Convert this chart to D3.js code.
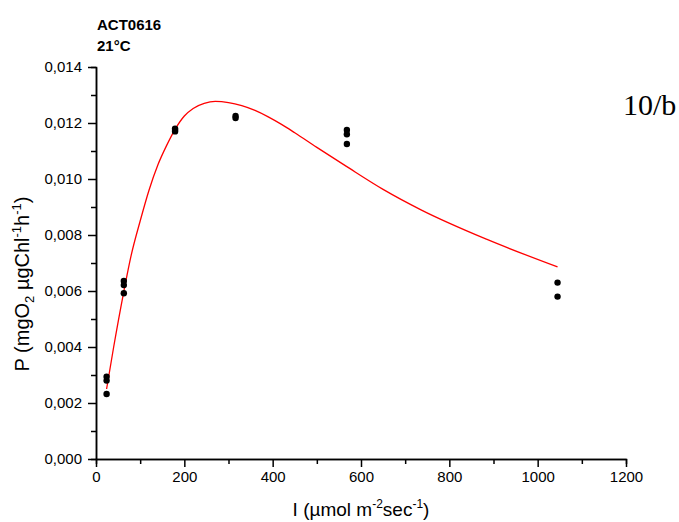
<!DOCTYPE html>
<html>
<head>
<meta charset="utf-8">
<script src="https://cdnjs.cloudflare.com/ajax/libs/d3/7.8.5/d3.min.js"></script>
<style>
  body { margin: 0; background: #fff; }
  svg { display: block; font-family: "Liberation Sans", Arial, sans-serif; }
</style>
</head>
<body>
<div id="chart"></div>
<script>
const F_WIDTH = 679;
const F_HEIGHT = 522;
const MARGINS = {left: 96, right: 53, top: 67, bottom: 63};

const VIS_WIDTH = F_WIDTH - MARGINS.left - MARGINS.right;
const VIS_HEIGHT = F_HEIGHT - MARGINS.top - MARGINS.bottom;

// measured points (light intensity, production)
const lightI = [24, 24, 24, 63, 63, 63, 179, 179, 179, 316, 316, 568, 568, 568, 1045, 1045];
const prod = [0.00294, 0.0028, 0.00232, 0.00636, 0.00621, 0.00592, 0.0118, 0.01175, 0.0117,
              0.01225, 0.01218, 0.01175, 0.0116, 0.01125, 0.0063, 0.0058];

// fitted curve
const fitI = [24, 40, 62, 80, 100, 120, 140, 160, 180, 200, 220, 245, 270, 300, 330, 360,
              390, 420, 450, 500, 567, 650, 737, 884, 1045];
const fitP = [0.0025, 0.0040, 0.0059, 0.0073, 0.0085, 0.0096, 0.0105, 0.0112, 0.0118, 0.01225,
              0.01252, 0.0127, 0.01277, 0.01273, 0.01262, 0.01245, 0.01222, 0.01195, 0.01165,
              0.01113, 0.01045, 0.00963, 0.00889, 0.00785, 0.00686];

const xTicks = [0, 200, 400, 600, 800, 1000, 1200];
const yTicks = [0, 0.002, 0.004, 0.006, 0.008, 0.010, 0.012, 0.014];

const FRAME = d3.select("#chart")
  .append("svg")
    .attr("width", F_WIDTH)
    .attr("height", F_HEIGHT);

const X_SCALE = d3.scaleLinear().domain([0, 1200]).range([0, VIS_WIDTH]);
const Y_SCALE = d3.scaleLinear().domain([0, 0.014]).range([VIS_HEIGHT, 0]);

const fmt = (d) => d3.format(".3f")(d).replace(".", ",");

// minor ticks first, then the labelled ones on top
FRAME.append("g")
    .attr("transform", "translate(" + MARGINS.left + "," + (VIS_HEIGHT + MARGINS.top) + ")")
    .call(d3.axisBottom(X_SCALE).tickValues(d3.range(100, 1200, 200)).tickSize(5).tickFormat(""));
FRAME.append("g")
    .attr("transform", "translate(" + MARGINS.left + "," + MARGINS.top + ")")
    .call(d3.axisLeft(Y_SCALE).tickValues(d3.range(0.001, 0.014, 0.002)).tickSize(5).tickFormat(""));

FRAME.append("g")
    .attr("transform", "translate(" + MARGINS.left + "," + (VIS_HEIGHT + MARGINS.top) + ")")
    .call(d3.axisBottom(X_SCALE).tickValues(xTicks).tickFormat(d3.format("d"))
      .tickSize(8).tickPadding(4).tickSizeOuter(0));

FRAME.append("g")
    .attr("transform", "translate(" + MARGINS.left + "," + MARGINS.top + ")")
    .call(d3.axisLeft(Y_SCALE).tickValues(yTicks).tickFormat(fmt)
      .tickSize(8).tickPadding(6).tickSizeOuter(0));

FRAME.selectAll(".domain, .tick line").attr("stroke", "#000").attr("stroke-width", 1.5);
FRAME.selectAll(".tick text").attr("font-size", 15).attr("fill", "#000")
    .attr("font-family", "Liberation Sans, Arial, sans-serif");

// fitted curve
const PLOT = FRAME.append("g")
    .attr("transform", "translate(" + MARGINS.left + "," + MARGINS.top + ")");

const line = d3.line()
    .x((d, i) => X_SCALE(fitI[i]))
    .y((d) => Y_SCALE(d))
    .curve(d3.curveMonotoneX);

PLOT.append("path")
    .datum(fitP)
    .attr("d", line)
    .attr("fill", "none")
    .attr("stroke", "#ff0000")
    .attr("stroke-width", 1.3);

PLOT.selectAll("circle")
    .data(prod)
    .enter()
    .append("circle")
      .attr("cx", (d, i) => X_SCALE(lightI[i]))
      .attr("cy", (d) => Y_SCALE(d))
      .attr("r", 3.2)
      .attr("fill", "#000");

// titles
FRAME.append("text")
    .attr("x", 97).attr("y", 30)
    .attr("font-size", 15).attr("font-weight", "bold")
    .text("ACT0616");
FRAME.append("text")
    .attr("x", 97).attr("y", 51)
    .attr("font-size", 15).attr("font-weight", "bold")
    .text("21°C");

FRAME.append("text")
    .attr("x", 623).attr("y", 115)
    .attr("font-family", "Liberation Serif, Times New Roman, serif")
    .attr("font-size", 30)
    .text("10/b");

// x axis title
const xt = FRAME.append("text")
    .attr("x", MARGINS.left + VIS_WIDTH / 2)
    .attr("y", 516)
    .attr("text-anchor", "middle")
    .attr("font-size", 19);
xt.append("tspan").text("I (µmol m");
xt.append("tspan").attr("font-size", 12).attr("dy", -8).text("-2");
xt.append("tspan").attr("dy", 8).text("sec");
xt.append("tspan").attr("font-size", 12).attr("dy", -8).text("-1");
xt.append("tspan").attr("dy", 8).text(")");

// y axis title
const yt = FRAME.append("text")
    .attr("transform", "translate(29,284) rotate(-90)")
    .attr("text-anchor", "middle")
    .attr("font-size", 20);
yt.append("tspan").text("P (mgO");
yt.append("tspan").attr("font-size", 13).attr("dy", 5).text("2");
yt.append("tspan").attr("dy", -5).text(" µgChl");
yt.append("tspan").attr("font-size", 13).attr("dy", -8).text("-1");
yt.append("tspan").attr("dy", 8).text("h");
yt.append("tspan").attr("font-size", 13).attr("dy", -8).text("-1");
yt.append("tspan").attr("dy", 8).text(")");
</script>
</body>
</html>
